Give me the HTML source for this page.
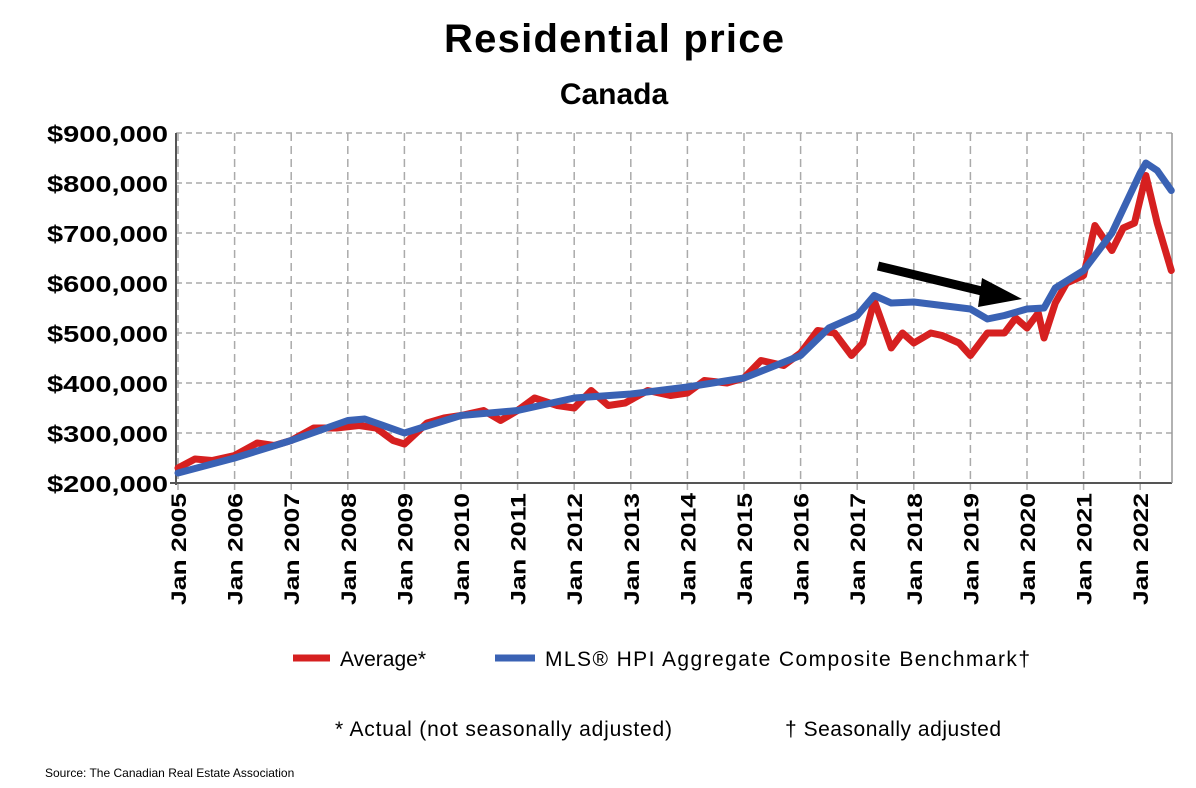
<!DOCTYPE html>
<html><head><meta charset="utf-8"><style>
body{margin:0;background:#fff;width:1196px;height:788px;overflow:hidden;font-family:"Liberation Sans",sans-serif}
svg{display:block}
</style></head><body>
<svg id="chart" width="1196" height="788">
<text x="614" y="52" text-anchor="middle" font-size="40" font-weight="bold" textLength="340">Residential price</text>
<text x="614" y="104" text-anchor="middle" font-size="30" font-weight="bold">Canada</text>
<g id="grid"></g><g id="axes"></g><g id="series"></g>
<g>
<line x1="878" y1="266" x2="990" y2="293" stroke="#000" stroke-width="9"/>
<polygon points="1022,299 982,278 978,307" fill="#000"/>
</g>
<g>
<line x1="293" y1="658" x2="330" y2="658" stroke="#d62020" stroke-width="7"/>
<text x="340" y="666" font-size="21">Average*</text>
<line x1="495" y1="658" x2="535" y2="658" stroke="#3a62b4" stroke-width="7"/>
<text x="545" y="666" font-size="21" textLength="485">MLS® HPI Aggregate Composite Benchmark†</text>
</g>
<text x="335" y="736" font-size="21" textLength="337">* Actual (not seasonally adjusted)</text>
<text x="785" y="736" font-size="21" textLength="216">† Seasonally adjusted</text>
<text x="45" y="777" font-size="12">Source: The Canadian Real Estate Association</text>
</svg>
<script>
const yTicks=[200,300,400,500,600,700,800,900];
const xYears=[2005,2006,2007,2008,2009,2010,2011,2012,2013,2014,2015,2016,2017,2018,2019,2020,2021,2022];
const avgT=[2005,2005.3,2005.6,2006,2006.4,2006.7,2007,2007.4,2007.8,2008.2,2008.5,2008.8,2009,2009.4,2009.7,2010,2010.4,2010.7,2011,2011.3,2011.7,2012,2012.3,2012.6,2012.9,2013.3,2013.7,2014,2014.3,2014.7,2015,2015.3,2015.7,2016,2016.3,2016.6,2016.9,2017.1,2017.3,2017.6,2017.8,2018,2018.3,2018.5,2018.8,2019,2019.3,2019.6,2019.8,2020,2020.2,2020.3,2020.5,2020.7,2021,2021.2,2021.5,2021.7,2021.9,2022.1,2022.3,2022.55];
const avgV=[230,248,245,255,280,275,285,310,310,315,310,285,278,320,330,335,345,325,345,370,355,350,385,355,360,385,375,380,405,400,410,445,435,460,505,500,455,480,565,470,500,480,500,495,480,455,500,500,530,510,540,490,560,600,615,715,665,710,720,815,720,625];
const hpiT=[2005,2006,2007,2008,2008.3,2009,2010,2011,2012,2013,2014,2015,2016,2016.5,2017,2017.3,2017.6,2018,2018.5,2019,2019.3,2019.6,2020,2020.3,2020.5,2021,2021.5,2022,2022.1,2022.3,2022.55];
const hpiV=[220,250,285,325,328,300,335,345,370,378,392,410,455,510,535,575,560,562,555,548,528,535,548,550,590,625,700,820,840,825,785];
const X=t=>178+(t-2005)*56.6, Y=v=>483-(v-200)*0.5;
const NS="http://www.w3.org/2000/svg";
function mk(tag,attrs,parent){const e=document.createElementNS(NS,tag);for(const k in attrs)e.setAttribute(k,attrs[k]);parent.appendChild(e);return e;}
const grid=document.getElementById('grid'),axes=document.getElementById('axes'),series=document.getElementById('series');
yTicks.forEach(v=>{
 const l=mk('line',{x1:176,x2:1172,y1:Y(v),y2:Y(v),stroke:'#aaa','stroke-width':1.5,'stroke-dasharray':'6,4'},grid);
 
 
 const t=mk('text',{x:168,y:Y(v)+9,'text-anchor':'end','font-size':23,'font-weight':'bold',textLength:121,lengthAdjust:'spacingAndGlyphs'},axes);
 t.textContent='$'+v+',000';
 
 
});
xYears.forEach(yr=>{
 const l=mk('line',{x1:X(yr),x2:X(yr),y1:133,y2:490,stroke:'#aaa','stroke-width':1.5,'stroke-dasharray':'8,5'},grid);
 
 
 const t=mk('text',{transform:`translate(${X(yr)+8},493) rotate(-90)`,'text-anchor':'end','font-size':21,'font-weight':'bold',textLength:112,lengthAdjust:'spacingAndGlyphs'},axes);
 t.textContent='Jan '+yr;
 
 
});
const ya=mk('line',{x1:176,x2:176,y1:133,y2:485,stroke:'#555','stroke-width':2},axes);


const xa=mk('line',{x1:170,x2:1172,y1:483,y2:483,stroke:'#555','stroke-width':2},axes);


const ra=mk('line',{x1:1172,x2:1172,y1:133,y2:483,stroke:'#999','stroke-width':1.5},axes);


function line(T,V,color,name){
 const d=T.map((t,i)=>(i?'L':'M')+X(t).toFixed(1)+','+Y(V[i]).toFixed(1)).join(' ');
 const p=mk('path',{d:d,fill:'none',stroke:color,'stroke-width':7,'stroke-linejoin':'round','stroke-linecap':'round'},series);
 
 
}
line(avgT,avgV,'#d62020','average-price-line');
line(hpiT,hpiV,'#3a62b4','hpi-benchmark-line');
</script>
</body></html>
